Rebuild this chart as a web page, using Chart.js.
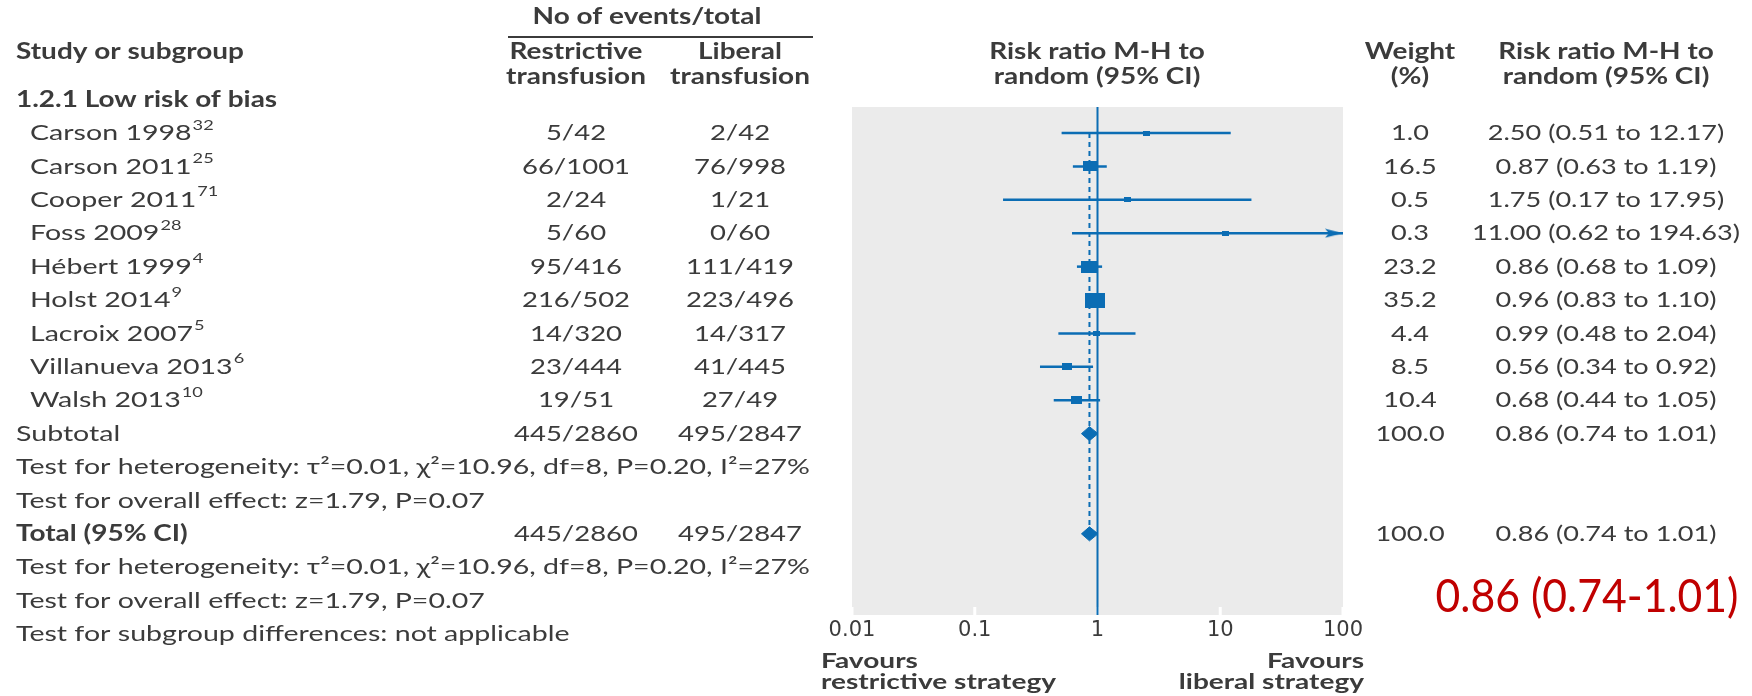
<!DOCTYPE html>
<html>
<head>
<meta charset="utf-8">
<script src="https://cdn.jsdelivr.net/npm/chart.js@4.4.1/dist/chart.umd.min.js"></script>
<style>
  html, body { margin: 0; padding: 0; background: #fff; }
  canvas { display: block; }
</style>
</head>
<body>
<canvas id="forest" width="1752" height="696"></canvas>
<script>
// 1.2.1 Low risk of bias - restrictive vs liberal transfusion
var studies = ['Carson 1998', 'Carson 2011', 'Cooper 2011', 'Foss 2009', 'Hébert 1999', 'Holst 2014', 'Lacroix 2007', 'Villanueva 2013', 'Walsh 2013'];
var refs = ['32', '25', '71', '28', '4', '9', '5', '6', '10'];
var restrEvents = [5, 66, 2, 5, 95, 216, 14, 23, 19];
var restrTotal = [42, 1001, 24, 60, 416, 502, 320, 444, 51];
var libEvents = [2, 76, 1, 0, 111, 223, 14, 41, 27];
var libTotal = [42, 998, 21, 60, 419, 496, 317, 445, 49];
var weights = [1.0, 16.5, 0.5, 0.3, 23.2, 35.2, 4.4, 8.5, 10.4];
var riskRatio = [2.50, 0.87, 1.75, 11.00, 0.86, 0.96, 0.99, 0.56, 0.68];
var ciLow = [0.51, 0.63, 0.17, 0.62, 0.68, 0.83, 0.48, 0.34, 0.44];
var ciHigh = [12.17, 1.19, 17.95, 194.63, 1.09, 1.10, 2.04, 0.92, 1.05];
var pooled = [0.86, 0.74, 1.01];          // estimate, low, high
var pooledEvents = [445, 2860, 495, 2847]; // restrictive n/N, liberal n/N
var xTicks = [0.01, 0.1, 1, 10, 100];

var hetText = 'Test for heterogeneity: τ²=0.01, χ²=10.96, df=8, P=0.20, I²=27%';
var effectText = 'Test for overall effect: z=1.79, P=0.07';

var blue = '#0b6db4';
var textCol = '#3b3b3b';
var xMin = 0.01, xMax = 100;
var yMin = -0.78, yMax = 14.43;
var subRow = 9, totalRow = 12;

function fmt(v) { return v.toFixed(2); }
function ciText(e, l, h) { return fmt(e) + ' (' + fmt(l) + ' to ' + fmt(h) + ')'; }

// study squares sized by weight
function boxImg(wt) {
  var w = Math.max(7, 3.4 * Math.sqrt(wt));
  var h = Math.max(5, w * 0.74);
  var c = document.createElement('canvas');
  c.width = Math.round(w); c.height = Math.round(h);
  var g = c.getContext('2d');
  g.fillStyle = blue;
  g.fillRect(0, 0, c.width, c.height);
  return c;
}
// arrow head, tip at the centre of the image
function arrowImg() {
  var c = document.createElement('canvas');
  c.width = 36; c.height = 10;
  var g = c.getContext('2d');
  g.fillStyle = blue;
  g.beginPath();
  g.moveTo(18, 5); g.lineTo(0, 0.5); g.lineTo(4, 5); g.lineTo(0, 9.5);
  g.closePath(); g.fill();
  return c;
}

var datasets = [];
datasets.push({
  type: 'scatter',
  data: studies.map(function (s, i) { return { x: riskRatio[i], y: i }; }),
  pointStyle: weights.map(boxImg),
  pointRadius: 5
});
[subRow, totalRow].forEach(function (r) {
  datasets.push({
    type: 'line',
    data: [{ x: pooled[1], y: r }, { x: pooled[0], y: r - 0.21 }, { x: pooled[2], y: r }, { x: pooled[0], y: r + 0.21 }, { x: pooled[1], y: r }],
    borderColor: blue, backgroundColor: blue, borderWidth: 1, pointRadius: 0, fill: 'shape', tension: 0
  });
});
studies.forEach(function (s, i) {
  var cut = ciHigh[i] > xMax;
  datasets.push({
    type: 'line',
    data: [{ x: ciLow[i], y: i }, { x: Math.min(ciHigh[i], xMax), y: i }],
    borderColor: blue, borderWidth: 2.5,
    pointRadius: cut ? [0, 10] : 0,
    pointStyle: cut ? ['circle', arrowImg()] : 'circle',
    clip: false
  });
});
datasets.push({
  type: 'line',
  data: [{ x: pooled[0], y: 0 }, { x: pooled[0], y: totalRow }],
  borderColor: blue, borderWidth: 2, borderDash: [5, 4], pointRadius: 0
});
datasets.push({
  type: 'line',
  data: [{ x: 1, y: yMin }, { x: 1, y: yMax }],
  borderColor: blue, borderWidth: 2, pointRadius: 0
});

var styles = {
  label: { font: '22px Lato', fit: [hetText, 794] },
  bold: { font: 'bold 22px Lato', fit: ['Study or subgroup', 228] },
  sup: { font: '14px Lato', fit: null },
  events: { font: '22px Lato', fit: ['445/2860', 124] },
  num: { font: '22px Lato', fit: ['11.00 (0.62 to 194.63)', 268] },
  favours: { font: 'bold 20px Lato', fit: ['restrictive strategy', 235] },
  red: { font: '46px Lato', fit: ['0.86 (0.74-1.01)', 303], color: '#c00000' }
};

function fitStyles(ctx) {
  Object.keys(styles).forEach(function (k) {
    var st = styles[k];
    if (st.fit) {
      ctx.font = st.font;
      st.sx = st.fit[1] / ctx.measureText(st.fit[0]).width;
    }
  });
  styles.sup.sx = styles.label.sx;
}

function put(ctx, s, x, y, st, align) {
  ctx.save();
  ctx.font = st.font;
  ctx.fillStyle = st.color || textCol;
  ctx.textBaseline = 'middle';
  ctx.textAlign = align || 'left';
  ctx.translate(x, y);
  ctx.scale(st.sx, 1);
  ctx.fillText(s, 0, 0);
  var w = ctx.measureText(s).width * st.sx;
  ctx.restore();
  return w;
}

var backdrop = {
  id: 'backdrop',
  beforeDatasetsDraw: function (chart) {
    var ctx = chart.ctx, a = chart.chartArea, x = chart.scales.x;
    ctx.save();
    ctx.fillStyle = '#ebebeb';
    ctx.fillRect(a.left, a.top, a.right - a.left, a.bottom - a.top);
    ctx.strokeStyle = '#ffffff';
    ctx.lineWidth = 3;
    x.ticks.forEach(function (t) {
      var px = x.getPixelForValue(t.value);
      ctx.beginPath();
      ctx.moveTo(px, a.bottom - 8);
      ctx.lineTo(px, a.bottom);
      ctx.stroke();
    });
    ctx.restore();
  }
};

var table = {
  id: 'table',
  afterDraw: function (chart) {
    var ctx = chart.ctx, y = chart.scales.y;
    fitStyles(ctx);
    var cR = 576, cL = 740, cW = 1410, cRR = 1606;

    // headers
    put(ctx, 'No of events/total', 647, 17, styles.bold, 'center');
    ctx.save();
    ctx.strokeStyle = textCol; ctx.lineWidth = 2;
    ctx.beginPath(); ctx.moveTo(508, 37); ctx.lineTo(813, 37); ctx.stroke();
    ctx.restore();
    put(ctx, 'Study or subgroup', 16, 52, styles.bold);
    put(ctx, 'Restrictive', cR, 52, styles.bold, 'center');
    put(ctx, 'transfusion', cR, 77, styles.bold, 'center');
    put(ctx, 'Liberal', cL, 52, styles.bold, 'center');
    put(ctx, 'transfusion', cL, 77, styles.bold, 'center');
    put(ctx, 'Risk ratio M-H to', 1097, 52, styles.bold, 'center');
    put(ctx, 'random (95% CI)', 1097, 77, styles.bold, 'center');
    put(ctx, 'Weight', cW, 52, styles.bold, 'center');
    put(ctx, '(%)', cW, 77, styles.bold, 'center');
    put(ctx, 'Risk ratio M-H to', cRR, 52, styles.bold, 'center');
    put(ctx, 'random (95% CI)', cRR, 77, styles.bold, 'center');
    put(ctx, '1.2.1 Low risk of bias', 16, y.getPixelForValue(-1), styles.bold);

    // studies
    studies.forEach(function (s, i) {
      var py = y.getPixelForValue(i);
      var w = put(ctx, s, 30, py, styles.label);
      put(ctx, refs[i], 30 + w + 1, py - 8, styles.sup);
      put(ctx, restrEvents[i] + '/' + restrTotal[i], cR, py, styles.events, 'center');
      put(ctx, libEvents[i] + '/' + libTotal[i], cL, py, styles.events, 'center');
      put(ctx, weights[i].toFixed(1), cW, py, styles.num, 'center');
      put(ctx, ciText(riskRatio[i], ciLow[i], ciHigh[i]), cRR, py, styles.num, 'center');
    });

    // subtotal and total
    [[subRow, 'Subtotal', styles.label], [totalRow, 'Total (95% CI)', styles.bold]].forEach(function (r) {
      var py = y.getPixelForValue(r[0]);
      put(ctx, r[1], 16, py, r[2]);
      put(ctx, pooledEvents[0] + '/' + pooledEvents[1], cR, py, styles.events, 'center');
      put(ctx, pooledEvents[2] + '/' + pooledEvents[3], cL, py, styles.events, 'center');
      put(ctx, '100.0', cW, py, styles.num, 'center');
      put(ctx, ciText(pooled[0], pooled[1], pooled[2]), cRR, py, styles.num, 'center');
      put(ctx, hetText, 16, y.getPixelForValue(r[0] + 1), styles.label);
      put(ctx, effectText, 16, y.getPixelForValue(r[0] + 2), styles.label);
    });
    put(ctx, 'Test for subgroup differences: not applicable', 16, y.getPixelForValue(15), styles.label);

    // axis captions
    put(ctx, 'Favours', 821, 662, styles.favours);
    put(ctx, 'restrictive strategy', 821, 683, styles.favours);
    put(ctx, 'Favours', 1364, 662, styles.favours, 'right');
    put(ctx, 'liberal strategy', 1364, 683, styles.favours, 'right');

    put(ctx, '0.86 (0.74-1.01)', 1587, 597, styles.red, 'center');
  }
};

new Chart(document.getElementById('forest'), {
  type: 'scatter',
  data: { datasets: datasets },
  options: {
    responsive: false,
    animation: false,
    events: [],
    layout: { padding: { left: 852, right: 409, top: 107, bottom: 0 } },
    plugins: { legend: { display: false }, tooltip: { enabled: false } },
    scales: {
      x: {
        type: 'logarithmic', min: xMin, max: xMax,
        afterBuildTicks: function (s) { s.ticks = xTicks.map(function (v) { return { value: v }; }); },
        afterFit: function (s) { s.height = 81; },
        grid: { display: false, drawTicks: false, tickLength: 0 },
        border: { display: false },
        ticks: {
          autoSkip: false, maxRotation: 0, padding: 3,
          color: textCol,
          font: { family: 'DejaVu Sans', size: 21 },
          callback: function (v) { return String(v); }
        }
      },
      y: { type: 'linear', reverse: true, min: yMin, max: yMax, display: false }
    }
  },
  plugins: [backdrop, table]
});
</script>
</body>
</html>
